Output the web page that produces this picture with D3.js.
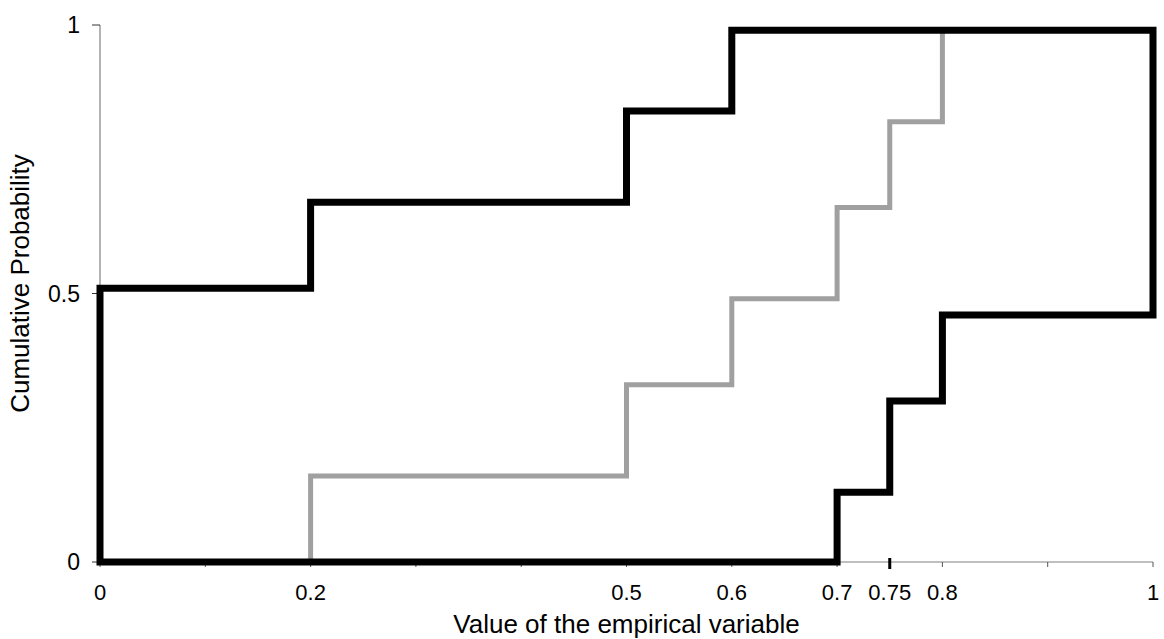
<!DOCTYPE html>
<html>
<head>
<meta charset="utf-8">
<script src="https://cdn.jsdelivr.net/npm/d3@7"></script>
<style>
  body { margin: 0; background: #fff; }
  text { font-family: "Liberation Sans", Arial, sans-serif; fill: #000; }
</style>
</head>
<body>
<script>
// upper bound of the p-box (black)
var upperX = [0, 0.2, 0.5, 0.6, 1];
var upperY = [0.51, 0.67, 0.84, 0.99, 0.99];
// lower bound of the p-box (black)
var lowerX = [0, 0.7, 0.75, 0.8, 1];
var lowerY = [0, 0.13, 0.30, 0.46, 0.46];
// empirical cdf (grey)
var cdfX = [0.2, 0.5, 0.6, 0.7, 0.75, 0.8, 1];
var cdfY = [0.16, 0.33, 0.49, 0.66, 0.82, 0.99, 0.99];

var xTickLabels = [0, 0.2, 0.5, 0.6, 0.7, 0.75, 0.8, 1];
var xMinorTicks = [0, 0.1, 0.2, 0.3, 0.4, 0.5, 0.6, 0.7, 0.8, 0.9, 1];
var yTickLabels = [0, 0.5, 1];

var width = 1164, height = 639;
var margin = {top: 25, right: 11, bottom: 77, left: 100};

var xScale = d3.scaleLinear().domain([0, 1]).range([margin.left, width - margin.right]);
var yScale = d3.scaleLinear().domain([0, 1]).range([height - margin.bottom, margin.top]);

var svg = d3.select('body').append('svg')
    .attr('width', width)
    .attr('height', height);

// turn step data into corner points
function steps(xs, ys, startY) {
    var pts = [];
    var prev = startY;
    xs.forEach(function(x, i) {
        if (i === 0 && startY === undefined) { pts.push([x, ys[i]]); prev = ys[i]; return; }
        pts.push([x, prev]);
        pts.push([x, ys[i]]);
        prev = ys[i];
    });
    return pts;
}

var line = d3.line()
    .x(function(d) { return xScale(d[0]); })
    .y(function(d) { return yScale(d[1]); });

// axes
var xAxisY = yScale(0);
svg.append('line')
    .attr('x1', xScale(0)).attr('x2', xScale(1))
    .attr('y1', xAxisY).attr('y2', xAxisY)
    .attr('stroke', '#808080').attr('stroke-width', 1.2);
svg.append('line')
    .attr('x1', xScale(0)).attr('x2', xScale(0))
    .attr('y1', yScale(0)).attr('y2', yScale(1))
    .attr('stroke', '#808080').attr('stroke-width', 1.2);

svg.selectAll('.xminor')
    .data(xMinorTicks)
  .enter().append('line')
    .attr('class', 'xminor')
    .attr('x1', function(d) { return xScale(d); })
    .attr('x2', function(d) { return xScale(d); })
    .attr('y1', xAxisY).attr('y2', xAxisY + 5)
    .attr('stroke', '#555').attr('stroke-width', 1);

// the highlighted 0.75 tick
svg.append('line')
    .attr('x1', xScale(0.75)).attr('x2', xScale(0.75))
    .attr('y1', xAxisY - 4).attr('y2', xAxisY + 7)
    .attr('stroke', '#000').attr('stroke-width', 3);

svg.selectAll('.ytick')
    .data(yTickLabels)
  .enter().append('line')
    .attr('class', 'ytick')
    .attr('x1', xScale(0) - 8).attr('x2', xScale(0))
    .attr('y1', function(d) { return yScale(d); })
    .attr('y2', function(d) { return yScale(d); })
    .attr('stroke', '#333').attr('stroke-width', 1);

svg.selectAll('.xlabel')
    .data(xTickLabels)
  .enter().append('text')
    .attr('class', 'xlabel')
    .attr('x', function(d) { return xScale(d); })
    .attr('y', 600)
    .attr('text-anchor', 'middle')
    .attr('font-size', '22px')
    .text(function(d) { return d; });

svg.selectAll('.ylabel')
    .data(yTickLabels)
  .enter().append('text')
    .attr('class', 'ylabel')
    .attr('x', 80)
    .attr('y', function(d) { return yScale(d); })
    .attr('dy', '0.36em')
    .attr('text-anchor', 'end')
    .attr('font-size', '23px')
    .text(function(d) { return d; });

svg.append('text')
    .attr('x', (xScale(0) + xScale(1)) / 2)
    .attr('y', 633)
    .attr('text-anchor', 'middle')
    .attr('font-size', '26px')
    .text('Value of the empirical variable');

svg.append('text')
    .attr('transform', 'translate(29,' + (yScale(0.5) - 10) + ') rotate(-90)')
    .attr('text-anchor', 'middle')
    .attr('font-size', '26px')
    .text('Cumulative Probability');

// grey empirical cdf
var cdfPts = steps(cdfX, cdfY, 0);
svg.append('path')
    .attr('d', line(cdfPts))
    .attr('fill', 'none')
    .attr('stroke', '#a0a0a0')
    .attr('stroke-width', 5);

// black p-box: upper bound, right edge, lower bound back, left edge
var up = steps(upperX, upperY);
var low = steps(lowerX, lowerY).reverse();
var box = up.concat(low);
svg.append('path')
    .attr('d', line(box) + 'Z')
    .attr('fill', 'none')
    .attr('stroke', '#000')
    .attr('stroke-width', 7)
    .attr('stroke-linejoin', 'miter');
</script>
</body>
</html>
